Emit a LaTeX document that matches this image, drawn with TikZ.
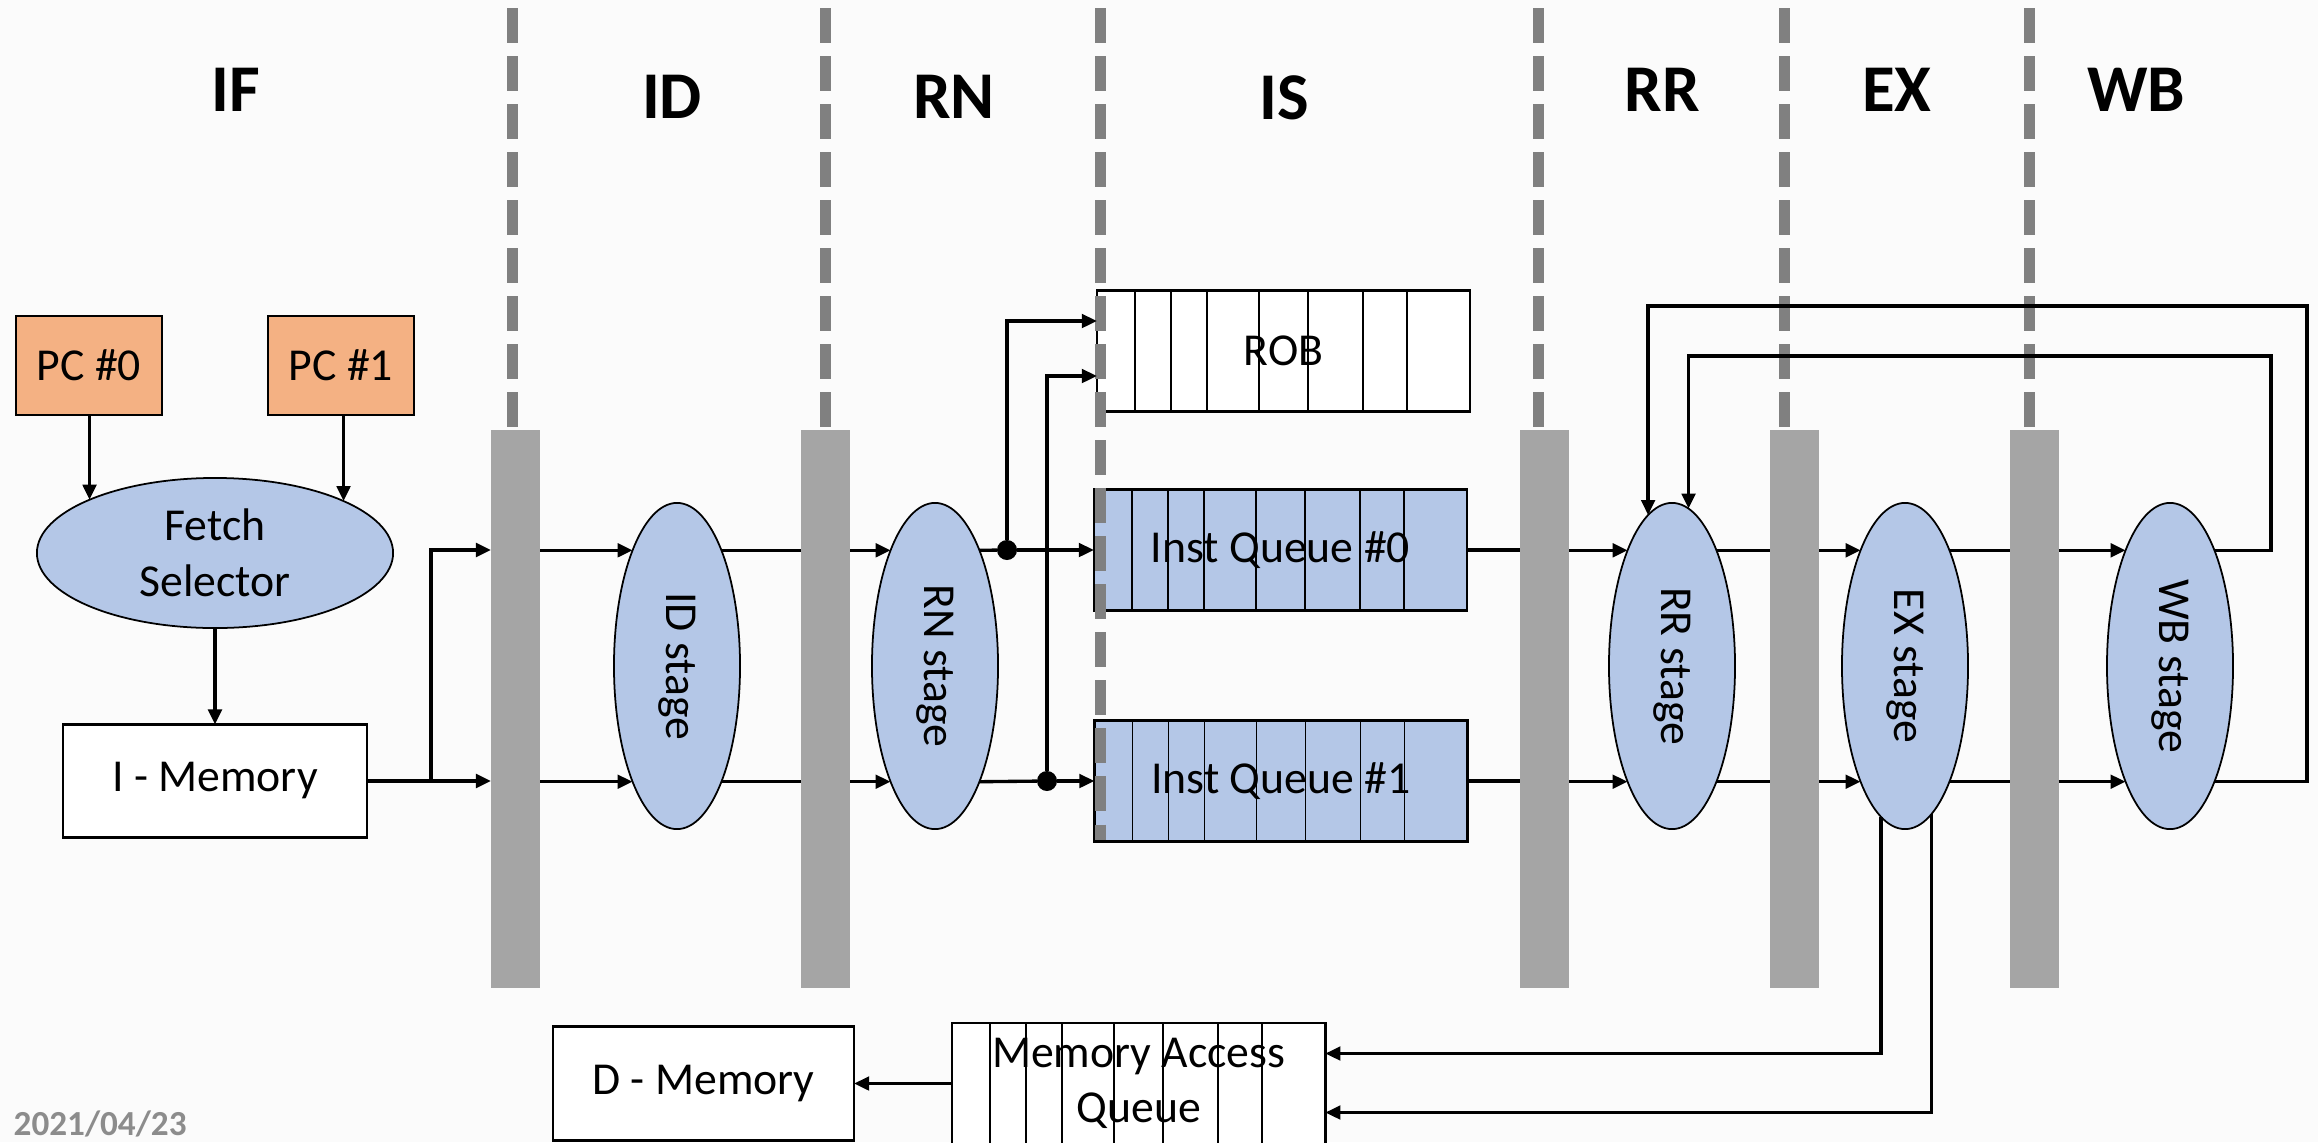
\documentclass[tikz,border=0pt]{standalone}
\usepackage{fontspec}
\setmainfont{Carlito}
\usetikzlibrary{arrows.meta,calc,shapes.geometric}
\definecolor{bgc}{RGB}{251,251,251}
\definecolor{stageblue}{RGB}{180,199,231}
\definecolor{pcorange}{RGB}{244,177,131}
\definecolor{bargray}{RGB}{165,165,165}
\definecolor{dashgray}{RGB}{128,128,128}
\definecolor{dategray}{RGB}{140,140,140}
\begin{document}
\begin{tikzpicture}[x=0.01cm,y=-0.01cm,
  txt/.style={font=\fontsize{13}{15.8}\selectfont},
  boxnode/.style={rectangle,draw=black,line width=0.7pt,inner sep=0pt,outer sep=0pt,txt},
  pcbox/.style={boxnode,fill=pcorange,minimum width=1.46cm,minimum height=0.99cm},
  queuebox/.style={boxnode,minimum width=3.73cm,minimum height=1.21cm},
  stageell/.style={ellipse,draw=black,line width=0.5pt,fill=stageblue,minimum width=1.26cm,minimum height=3.26cm,inner sep=0pt,outer sep=0pt,txt},
  regbar/.style={rectangle,fill=bargray,draw=none,minimum width=0.49cm,minimum height=5.58cm,inner sep=0pt,outer sep=0pt},
  stagelabel/.style={font=\bfseries\fontsize{19}{22}\selectfont,inner sep=0pt},
  stagedash/.style={draw=dashgray,line width=0.11cm,dash pattern=on 0.35cm off 0.13cm},
  cellline/.style={line width=0.4pt},
  ln/.style={line width=0.95pt},
  arr/.style={line width=0.95pt,-{Triangle[length=0.15cm,width=0.135cm]}},
  jdot/.style={circle,fill=black,minimum size=0.2cm,inner sep=0pt,outer sep=0pt}
]
\clip (0,0) rectangle (2318,1142);
\fill[bgc] (0,0) rectangle (2318,1142);

% stage labels
\node[stagelabel] (lIF) at (236,90) {IF};
\node[stagelabel] (lID) at (672,97) {ID};
\node[stagelabel] (lRN) at (954,97) {RN};
\node[stagelabel] (lIS) at (1284,98) {IS};
\node[stagelabel] (lRR) at (1662,90) {RR};
\node[stagelabel] (lEX) at (1897,90) {EX};
\node[stagelabel] (lWB) at (2136,90) {WB};

% dashed stage separators
\foreach \xx in {512,825,1538,1784,2029}
  \draw[stagedash] (\xx,8) -- (\xx,430);

% pipeline register bars
\node[regbar] (b1) at (515.5,709) {};
\node[regbar] (b2) at (825.5,709) {};
\node[regbar] (b3) at (1544.5,709) {};
\node[regbar] (b4) at (1794.5,709) {};
\node[regbar] (b5) at (2034,709) {};

% IF
\node[pcbox] (pc0) at (89,365.5) {PC \#0};
\node[pcbox] (pc1) at (341,365.5) {PC \#1};
\node[ellipse,draw=black,line width=0.5pt,fill=stageblue,minimum width=3.56cm,minimum height=1.5cm,inner sep=0pt,outer sep=0pt,txt,align=center] (fs) at (215,553) {Fetch\\Selector};
\node[boxnode,fill=white,minimum width=3.04cm,minimum height=1.13cm] (imem) at (215,781) {I - Memory};

% stages
\node[stageell] (id) at (677,666) {\rotatebox{-90}{ID stage}};
\node[stageell] (rn) at (935,666) {\rotatebox{-90}{RN stage}};
\node[stageell] (rr) at (1672,666) {\rotatebox{-90}{RR stage}};
\node[stageell] (ex) at (1905,666) {\rotatebox{-90}{EX stage}};
\node[stageell] (wb) at (2170,666) {\rotatebox{-90}{WB stage}};

% queues
\node[queuebox,fill=white] (rob) at (1283.5,351) {ROB};
\node[queuebox,fill=stageblue] (iq0) at (1280.5,550) {Inst Queue \#0};
\node[queuebox,fill=stageblue] (iq1) at (1281,781) {Inst Queue \#1};
\node[queuebox,fill=white,align=center] (maq) at (1138.75,1083.5) {Memory Access\\Queue};
\node[boxnode,fill=white,minimum width=3.01cm,minimum height=1.14cm] (dmem) at (703.5,1083.5) {D - Memory};
\foreach \q in {rob,iq0,iq1,maq}
  \foreach \o in {38,74,110,162,211,266,310}
    \draw[cellline] ($(\q.north west)+(\o,0)$) -- ($(\q.south west)+(\o,0)$);

% IS separator drawn over queue edges
\draw[stagedash] (1100,8) -- (1100,840);

% junctions
\node[jdot] (d1) at (1007,550) {};
\node[jdot] (d2) at (1047,781) {};
\coordinate (rowA) at (0,550);
\coordinate (br) at (431,781);
\coordinate (fbA) at (2271,356);
\coordinate (fbB) at (2307,306);

% IF connectors
\draw[arr] (fs.157.2 |- pc0.south) -- (fs.157.2);
\draw[arr] (fs.22.6 |- pc1.south) -- (fs.22.6);
\draw[arr] (fs.south) -- (imem.north);
\draw[arr] (imem.east) -- (b1.west |- imem.east);
\draw[arr] (br) |- (b1.west |- rowA);

% ID
\draw[arr] (id.111 -| b1.east) -- (id.111);
\draw[arr] (id.249 -| b1.east) -- (id.249);
\draw[ln] (id.69) -- (id.69 -| b2.west);
\draw[ln] (id.291) -- (id.291 -| b2.west);

% RN
\draw[arr] (rn.111 -| b2.east) -- (rn.111);
\draw[arr] (rn.249 -| b2.east) -- (rn.249);
\draw[ln] (rn.69) -- (d1);
\draw[ln] (rn.291) -- (d2);
\draw[arr] (d1) -- (iq0.west |- d1);
\draw[arr] (d2) -- (iq1.west |- d2);
\draw[arr] (d1) |- ($(rob.west)+(0,-30)$);
\draw[arr] (d2) |- ($(rob.west)+(0,25)$);

% IS -> RR
\draw[ln] (iq0.east) -- (iq0.east -| b3.west);
\draw[ln] (iq1.east) -- (iq1.east -| b3.west);
\draw[arr] (rr.111 -| b3.east) -- (rr.111);
\draw[arr] (rr.249 -| b3.east) -- (rr.249);
\draw[ln] (rr.69) -- (rr.69 -| b4.west);
\draw[ln] (rr.291) -- (rr.291 -| b4.west);

% EX
\draw[arr] (ex.111 -| b4.east) -- (ex.111);
\draw[arr] (ex.249 -| b4.east) -- (ex.249);
\draw[ln] (ex.69) -- (ex.69 -| b5.west);
\draw[ln] (ex.291) -- (ex.291 -| b5.west);

% WB
\draw[arr] (wb.111 -| b5.east) -- (wb.111);
\draw[arr] (wb.249 -| b5.east) -- (wb.249);
\draw[arr] (wb.69) -| (fbA) -| (rr.84.6);
\draw[arr] (wb.291) -| (fbB) -| (rr.99.9);

% memory
\draw[arr] (ex.261.4) |- ($(maq.east)+(0,-30)$);
\draw[arr] (ex.280.4) |- ($(maq.east)+(0,29)$);
\draw[arr] (maq.west) -- (dmem.east);

% date
\node[anchor=base west,inner sep=0pt,font=\bfseries\fontsize{10}{12}\selectfont,text=dategray] (date) at (13,1135) {2021/04/23};
\end{tikzpicture}
\end{document}
